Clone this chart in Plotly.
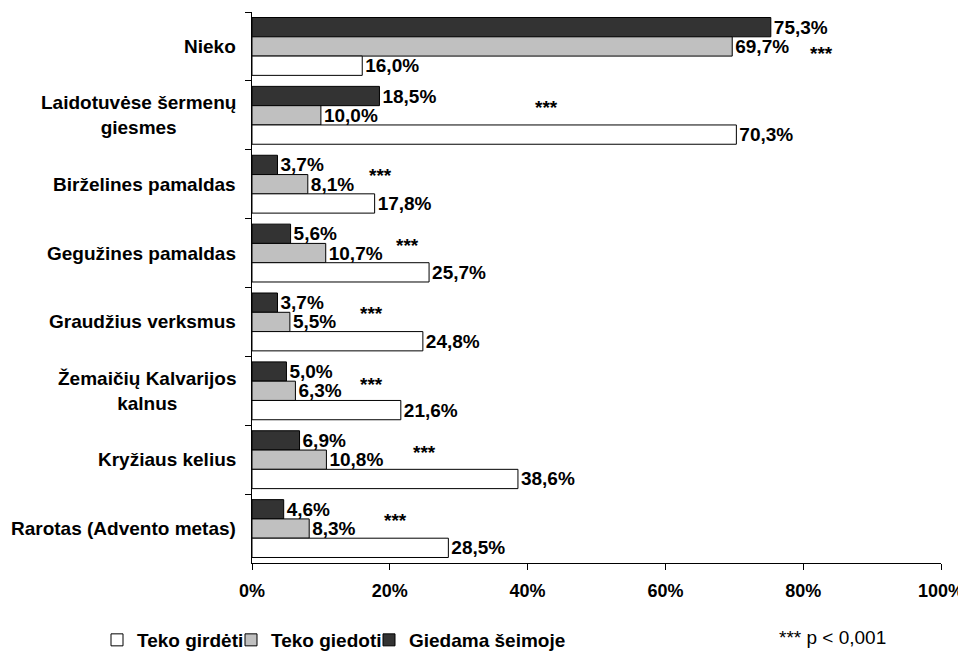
import plotly.graph_objects as go

categories = ["Nieko", "Laidotuvėse šermenų giesmes", "Birželines pamaldas",
              "Gegužines pamaldas", "Graudžius verksmus",
              "Žemaičių Kalvarijos kalnus", "Kryžiaus kelius",
              "Rarotas (Advento metas)"]
category_labels = ["Nieko", "Laidotuvėse šermenų<br>giesmes", "Birželines pamaldas",
                   "Gegužines pamaldas", "Graudžius verksmus",
                   "Žemaičių Kalvarijos<br>kalnus", "Kryžiaus kelius",
                   "Rarotas (Advento metas)"]

giedama_seimoje = [75.3, 18.5, 3.7, 5.6, 3.7, 5.0, 6.9, 4.6]
teko_giedoti = [69.7, 10.0, 8.1, 10.7, 5.5, 6.3, 10.8, 8.3]
teko_girdeti = [16.0, 70.3, 17.8, 25.7, 24.8, 21.6, 38.6, 28.5]

x_ticks = [0, 20, 40, 60, 80, 100]
x_tick_labels = ["0%", "20%", "40%", "60%", "80%", "100%"]

# significance marker placement (x in % units, vertical shift in px)
star_x = [82.6, 42.8, 18.6, 22.5, 17.4, 17.4, 25.0, 20.8]
star_dy = [-7, 8, 9, 8, 8, 6, 7, 8]

FONT = "Liberation Sans, Arial, sans-serif"
FS = 19
line = dict(color="black", width=1)
tf = dict(family=FONT, size=FS, color="black", weight="bold")

# page body has an 8px margin, so the figure is sized 8px smaller
W, H = 958, 644

fig = go.Figure()
fig.add_trace(go.Bar(name="Giedama šeimoje", y=categories, x=giedama_seimoje,
                     orientation="h", marker=dict(color="#333333", line=line),
                     texttemplate="%{x:.1f}%", textposition="outside",
                     textfont=tf, cliponaxis=False, constraintext="none",
                     legend="legend3"))
fig.add_trace(go.Bar(name="Teko giedoti", y=categories, x=teko_giedoti,
                     orientation="h", marker=dict(color="#c0c0c0", line=line),
                     texttemplate="%{x:.1f}%", textposition="outside",
                     textfont=tf, cliponaxis=False, constraintext="none",
                     legend="legend2"))
fig.add_trace(go.Bar(name="Teko girdėti", y=categories, x=teko_girdeti,
                     orientation="h", marker=dict(color="#ffffff", line=line),
                     texttemplate="%{x:.1f}%", textposition="outside",
                     textfont=tf, cliponaxis=False, constraintext="none",
                     legend="legend"))

annotations = []
for cat, lab in zip(categories, category_labels):
    annotations.append(dict(x=0, xref="paper", y=cat, yref="y", text=lab,
                            showarrow=False, xanchor="right", xshift=-14,
                            align="center", font=tf))
for cat, sx, dy in zip(categories, star_x, star_dy):
    annotations.append(dict(x=sx, xref="x", y=cat, yref="y", text="***",
                            showarrow=False, yshift=dy, xanchor="center",
                            font=dict(family=FONT, size=FS, color="black",
                                      weight="bold")))
annotations.append(dict(x=(832 - 252) / 689, xref="paper", y=-0.136, yref="paper",
                        text="*** p < 0,001", showarrow=False,
                        xanchor="center", yanchor="middle",
                        font=dict(family=FONT, size=19, color="black")))


def legend_at(px):
    return dict(orientation="h", xref="container", yref="container",
                x=px / W, xanchor="left", y=12 / H, yanchor="middle",
                font=dict(family=FONT, size=19, color="black", weight="bold"),
                bgcolor="rgba(0,0,0,0)")


fig.update_layout(
    width=W, height=H,
    margin=dict(l=244, r=25, t=4, b=89),
    paper_bgcolor="white", plot_bgcolor="white",
    barmode="group", bargap=0.16, bargroupgap=0,
    separators=",.",
    font=dict(family=FONT, size=FS, color="black"),
    showlegend=True,
    legend=legend_at(89),
    legend2=legend_at(223),
    legend3=legend_at(361),
    annotations=annotations,
)
fig.update_xaxes(range=[0, 100], tickvals=x_ticks, ticktext=x_tick_labels,
                 showgrid=False, zeroline=False, showline=True,
                 linecolor="black", linewidth=1, ticks="outside",
                 ticklen=6, tickcolor="black", automargin=False,
                 ticklabelstandoff=5,
                 tickfont=dict(family=FONT, size=18, color="black", weight="bold"))
fig.update_yaxes(type="category", categoryorder="array", categoryarray=categories,
                 autorange="reversed", showticklabels=False, showgrid=False,
                 showline=True, linecolor="black", linewidth=1,
                 ticks="outside", ticklen=6, tickcolor="black",
                 tickson="boundaries", automargin=False)

fig.write_html("out.html")
